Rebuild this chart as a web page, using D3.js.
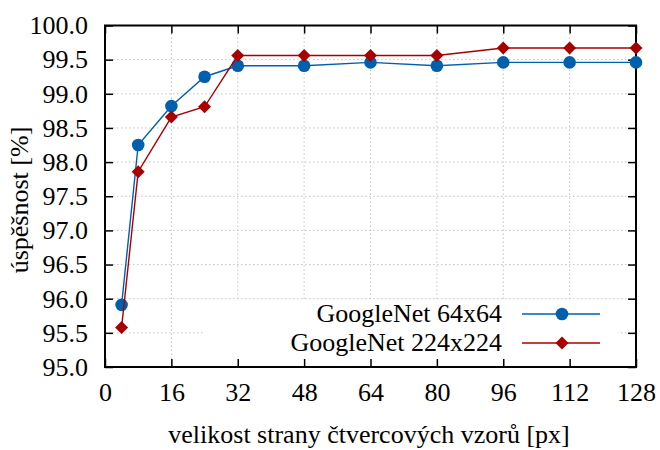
<!DOCTYPE html>
<html>
<head>
<meta charset="utf-8">
<script src="https://cdn.jsdelivr.net/npm/d3@7"></script>
<style>
body { margin: 0; background: #fff; }
</style>
</head>
<body>
<div id="chart"></div>
<script>
// data
var sizes = [4, 8, 16, 24, 32, 48, 64, 80, 96, 112, 128];
var net64 = [95.91, 98.25, 98.82, 99.25, 99.41, 99.41, 99.46, 99.41, 99.46, 99.46, 99.46];
var net224 = [95.58, 97.86, 98.66, 98.81, 99.56, 99.56, 99.56, 99.56, 99.67, 99.67, 99.67];
var xTicks = [0, 16, 32, 48, 64, 80, 96, 112, 128];
var yTicks = [95.0, 95.5, 96.0, 96.5, 97.0, 97.5, 98.0, 98.5, 99.0, 99.5, 100.0];
var seriesNames = ["GoogleNet 64x64", "GoogleNet 224x224"];
var seriesColors = ["#0060ad", "#a80000"];

var width = 660, height = 450;
var mLeft = 105, mRight = 636, mTop = 25.5, mBottom = 367;
var fontSize = 26;
var serif = "'Liberation Serif', 'Times New Roman', serif";

var svg = d3.select("#chart").append("svg")
    .attr("width", width)
    .attr("height", height);

var xScale = d3.scaleLinear().domain([0, 128]).range([mLeft, mRight]);
var yScale = d3.scaleLinear().domain([95, 100]).range([mBottom, mTop]);

// grid
var grid = svg.append("g").attr("class", "grid");
xTicks.slice(1, -1).forEach(function(t) {
    grid.append("line")
        .attr("x1", xScale(t)).attr("x2", xScale(t))
        .attr("y1", mTop).attr("y2", mBottom);
});
yTicks.slice(1, -1).forEach(function(t) {
    grid.append("line")
        .attr("x1", mLeft).attr("x2", mRight)
        .attr("y1", yScale(t)).attr("y2", yScale(t));
});
grid.selectAll("line")
    .attr("stroke", "#c4c4c4")
    .attr("stroke-width", 1)
    .attr("stroke-dasharray", "1.5,2.5");

// legend background (opaque, hides grid)
var legX = 203, legY = 300;
svg.append("rect")
    .attr("x", legX).attr("y", legY)
    .attr("width", 618 - legX).attr("height", mBottom - legY)
    .attr("fill", "#fff");

// axes
var xAxis = d3.axisBottom(xScale).tickValues(xTicks).tickSize(-8).tickPadding(16)
    .tickFormat(d3.format("d"));
var yAxis = d3.axisLeft(yScale).tickValues(yTicks).tickSize(-8).tickPadding(17)
    .tickFormat(d3.format(".1f"));
var xTop = d3.axisTop(xScale).tickValues(xTicks).tickSize(-8).tickFormat("");
var yRight = d3.axisRight(yScale).tickValues(yTicks).tickSize(-8).tickFormat("");

svg.append("g").attr("class", "xAxis")
    .attr("transform", "translate(0," + mBottom + ")").call(xAxis);
svg.append("g").attr("class", "yAxis")
    .attr("transform", "translate(" + mLeft + ",0)").call(yAxis);
svg.append("g").attr("transform", "translate(0," + mTop + ")").call(xTop);
svg.append("g").attr("transform", "translate(" + mRight + ",0)").call(yRight);

svg.selectAll(".domain").remove();
svg.selectAll(".tick line").attr("stroke", "#000").attr("stroke-width", 1.5);
svg.selectAll(".tick text")
    .attr("font-size", fontSize)
    .attr("font-family", serif)
    .attr("fill", "#000");

svg.append("rect")
    .attr("x", mLeft).attr("y", mTop)
    .attr("width", mRight - mLeft).attr("height", mBottom - mTop)
    .attr("fill", "none")
    .attr("stroke", "#000")
    .attr("stroke-width", 2);

// series
var line = d3.line()
    .x(function(d) { return xScale(d[0]); })
    .y(function(d) { return yScale(d[1]); });

function diamond(cx, cy, r) {
    return "M" + cx + "," + (cy - r) + "L" + (cx + r) + "," + cy +
        "L" + cx + "," + (cy + r) + "L" + (cx - r) + "," + cy + "Z";
}

function drawMarker(g, kind, cx, cy, color) {
    if (kind === 0) {
        g.append("circle").attr("cx", cx).attr("cy", cy).attr("r", 6.3).attr("fill", color);
    } else {
        g.append("path").attr("d", diamond(cx, cy, 6.5)).attr("fill", color);
    }
}

[net64, net224].forEach(function(vals, i) {
    var pts = sizes.map(function(s, j) { return [s, vals[j]]; });
    var g = svg.append("g");
    g.append("path")
        .datum(pts)
        .attr("d", line)
        .attr("fill", "none")
        .attr("stroke", seriesColors[i])
        .attr("stroke-width", 1.4);
    pts.forEach(function(p) {
        drawMarker(g, i, xScale(p[0]), yScale(p[1]), seriesColors[i]);
    });
});

// legend
var legend = svg.append("g");
seriesNames.forEach(function(name, i) {
    var cy = 314 + i * 29;
    legend.append("text")
        .attr("x", 502).attr("y", cy + 8)
        .attr("text-anchor", "end")
        .attr("font-size", fontSize)
        .attr("font-family", serif)
        .text(name);
    legend.append("line")
        .attr("x1", 522).attr("x2", 600)
        .attr("y1", cy).attr("y2", cy)
        .attr("stroke", seriesColors[i])
        .attr("stroke-width", 1.4);
    drawMarker(legend, i, 562, cy, seriesColors[i]);
});

// axis titles
svg.append("text")
    .attr("x", 369).attr("y", 443)
    .attr("text-anchor", "middle")
    .attr("font-size", fontSize)
    .attr("font-family", serif)
    .text("velikost strany čtvercových vzorů [px]");

svg.append("text")
    .attr("transform", "translate(28," + 200 + ")rotate(-90)")
    .attr("text-anchor", "middle")
    .attr("font-size", fontSize)
    .attr("font-family", serif)
    .text("úspěšnost [%]");
</script>
</body>
</html>
